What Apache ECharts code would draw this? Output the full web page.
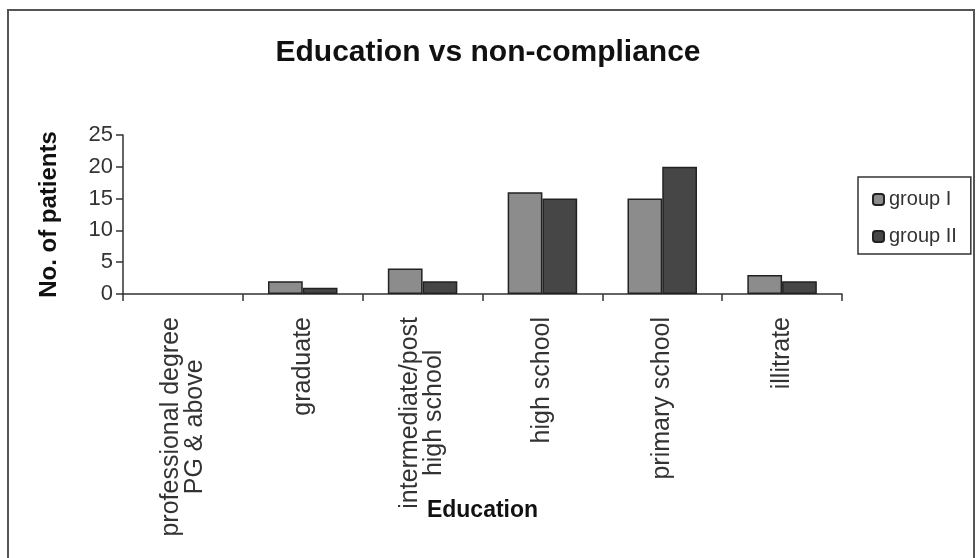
<!DOCTYPE html>
<html>
<head>
<meta charset="utf-8">
<script src="https://cdn.jsdelivr.net/npm/echarts@6/dist/echarts.min.js"></script>
<style>
  html, body { margin: 0; padding: 0; background: #ffffff; }
  #chart { width: 976px; height: 558px; }
</style>
</head>
<body>
<div id="chart"></div>
<script>
// Education level categories (line breaks kept as drawn on the axis)
const categories = [
  'professional degree\nPG & above',
  'graduate',
  'intermediate/post\nhigh school',
  'high school',
  'primary school',
  'illitrate'
];
// Number of non-compliant patients per group
const groupI = [0, 2, 4, 16, 15, 3];
const groupII = [0, 1, 2, 15, 20, 2];
const seriesNames = ['group I', 'group II'];
const yTicks = { min: 0, max: 25, interval: 5 };

const FONT = '"Liberation Sans", Arial, sans-serif';

// Zero counts get no outline so they leave no visible sliver on the axis
function barData(values) {
  return values.map(function (v) {
    return v === 0 ? { value: v, itemStyle: { borderWidth: 0 } } : v;
  });
}

const chart = echarts.init(document.getElementById('chart'), null, { renderer: 'canvas' });

chart.setOption({
  animation: false,
  backgroundColor: '#ffffff',
  title: {
    text: 'Education vs non-compliance',
    left: 'center',
    top: 33,
    textStyle: { fontFamily: FONT, fontSize: 30, fontWeight: 'bold', color: '#111' }
  },
  graphic: [{
    type: 'rect',
    shape: { x: 8, y: 10, width: 966, height: 570 },
    style: { fill: 'none', stroke: '#555', lineWidth: 2 },
    silent: true
  }],
  legend: {
    orient: 'vertical',
    left: 858,
    top: 177,
    data: seriesNames,
    itemWidth: 11,
    itemHeight: 11,
    itemGap: 14,
    padding: [11, 14, 6, 14],
    borderColor: '#333',
    borderWidth: 1.5,
    textStyle: { fontFamily: FONT, fontSize: 20, lineHeight: 23, color: '#333' }
  },
  grid: { left: 123, top: 135, right: 134, bottom: 264, containLabel: false },
  xAxis: {
    type: 'category',
    data: categories,
    name: 'Education',
    nameLocation: 'middle',
    nameGap: 205,
    nameMoveOverlap: false,
    nameTextStyle: { fontFamily: FONT, fontSize: 23, fontWeight: 'bold', color: '#111' },
    axisLine: { lineStyle: { color: '#333', width: 1.5 } },
    axisTick: { show: true, length: 7, lineStyle: { color: '#333', width: 1.5 } },
    axisLabel: {
      interval: 0,
      rotate: 90,
      margin: 23,
      formatter: function (v) {
        return v.split('\n').map(function (l) { return '{c|' + l + '}'; }).join('\n');
      },
      rich: {
        c: { align: 'center', fontFamily: FONT, fontSize: 25, lineHeight: 24, color: '#333' }
      }
    }
  },
  yAxis: {
    type: 'value',
    min: yTicks.min,
    max: yTicks.max,
    interval: yTicks.interval,
    name: 'No. of patients',
    nameLocation: 'middle',
    nameGap: 62,
    nameMoveOverlap: false,
    nameTextStyle: { fontFamily: FONT, fontSize: 24, fontWeight: 'bold', color: '#111' },
    axisLine: { show: true, lineStyle: { color: '#333', width: 1.5 } },
    axisTick: { show: true, length: 7, lineStyle: { color: '#333', width: 1.5 } },
    splitLine: { show: false },
    axisLabel: { margin: 10, fontFamily: FONT, fontSize: 22, color: '#333' }
  },
  series: [
    {
      name: seriesNames[0],
      type: 'bar',
      data: barData(groupI),
      barGap: '0%',
      barCategoryGap: '42%',
      itemStyle: { color: '#8c8c8c', borderColor: '#222', borderWidth: 1.5 }
    },
    {
      name: seriesNames[1],
      type: 'bar',
      data: barData(groupII),
      itemStyle: { color: '#464646', borderColor: '#222', borderWidth: 1.5 }
    }
  ]
});
</script>
</body>
</html>
